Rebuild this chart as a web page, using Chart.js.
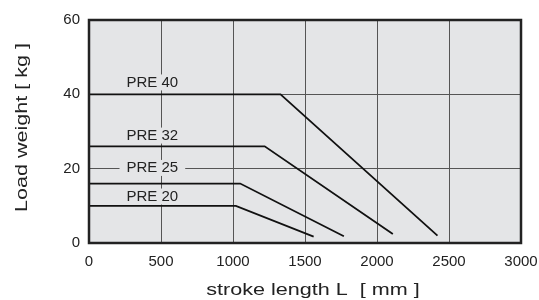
<!DOCTYPE html>
<html lang="en">
<head>
    <meta charset="UTF-8">
    <title>Load weight vs stroke length</title>
    <script src="https://cdn.jsdelivr.net/npm/chart.js"></script>
    <style>
        body {
            margin: 0;
            background: #ffffff;
        }
        .chart-container {
            width: 539px;
            height: 300px;
        }
    </style>
</head>
<body>
    <div class="chart-container">
        <canvas id="loadChart"></canvas>
    </div>

    <script>
        // series names
        var seriesNames = ['PRE 40', 'PRE 32', 'PRE 25', 'PRE 20'];
        // stroke length points (mm) for each series
        var strokeX = [
            [0, 1330, 2420],
            [0, 1220, 2110],
            [0, 1050, 1770],
            [0, 1020, 1560]
        ];
        // load weight points (kg) for each series
        var loadY = [
            [40, 40, 2.0],
            [26, 26, 2.4],
            [16, 16, 1.8],
            [10, 10, 1.7]
        ];
        // where the series names sit (data coords)
        var labelX = [440, 440, 440, 440];
        var labelY = [43.2, 28.9, 20.2, 12.5];

        var xTicks = [0, 500, 1000, 1500, 2000, 2500, 3000];
        var yTicks = [0, 20, 40, 60];

        var xTitle = 'stroke length L  [ mm ]';
        var yTitle = 'Load weight [ kg ]';

        var plotBg = '#e4e5e7';
        var fontFamily = '"Liberation Sans", Arial, sans-serif';

        var datasets = seriesNames.map(function (name, i) {
            return {
                label: name,
                data: strokeX[i].map(function (x, j) { return { x: x, y: loadY[i][j] }; }),
                showLine: true,
                borderColor: '#111111',
                borderWidth: 1.8,
                pointRadius: 0,
                fill: false
            };
        });

        // draws text stretched a bit wider, like the original artwork
        function wideText(ctx, text, x, y, angle) {
            ctx.save();
            ctx.translate(x, y);
            ctx.rotate(angle);
            ctx.scale(1.27, 1);
            ctx.fillText(text, 0, 0);
            ctx.restore();
        }

        // plot background, series labels, frame and axis titles
        var framePlugin = {
            id: 'frame',
            beforeDraw: function (chart) {
                var a = chart.chartArea, ctx = chart.ctx;
                ctx.save();
                ctx.fillStyle = plotBg;
                ctx.fillRect(a.left, a.top, a.right - a.left, a.bottom - a.top);
                ctx.restore();
            },
            beforeDatasetsDraw: function (chart) {
                var ctx = chart.ctx;
                var xs = chart.scales.x, ys = chart.scales.y;
                ctx.save();
                ctx.font = '15px ' + fontFamily;
                ctx.textAlign = 'center';
                ctx.textBaseline = 'middle';
                seriesNames.forEach(function (name, i) {
                    var px = xs.getPixelForValue(labelX[i]);
                    var py = ys.getPixelForValue(labelY[i]);
                    var w = ctx.measureText(name).width;
                    ctx.fillStyle = plotBg;
                    ctx.fillRect(px - w / 2 - 7, py - 8, w + 14, 16);
                    ctx.fillStyle = '#222222';
                    ctx.fillText(name, px, py);
                });
                ctx.restore();
            },
            afterDraw: function (chart) {
                var a = chart.chartArea, ctx = chart.ctx;
                ctx.save();
                ctx.strokeStyle = '#222222';
                ctx.lineWidth = 2.5;
                ctx.strokeRect(a.left, a.top, a.right - a.left, a.bottom - a.top);

                ctx.fillStyle = '#222222';
                ctx.font = '17px ' + fontFamily;
                ctx.textAlign = 'center';
                ctx.textBaseline = 'middle';
                wideText(ctx, xTitle, (a.left + a.right) / 2 + 8, 290, 0);
                wideText(ctx, yTitle, 22, (a.top + a.bottom) / 2 - 4, -Math.PI / 2);
                ctx.restore();
            }
        };

        var ctx = document.getElementById('loadChart').getContext('2d');
        var loadChart = new Chart(ctx, {
            type: 'scatter',
            data: { datasets: datasets },
            options: {
                responsive: true,
                maintainAspectRatio: false,
                animation: false,
                layout: {
                    padding: { top: 20, right: 18, left: 0, bottom: 0 }
                },
                plugins: {
                    legend: { display: false },
                    tooltip: { enabled: false }
                },
                scales: {
                    x: {
                        type: 'linear',
                        min: 0,
                        max: 3000,
                        afterBuildTicks: function (scale) {
                            scale.ticks = xTicks.map(function (v) { return { value: v }; });
                        },
                        afterFit: function (scale) {
                            scale.height = 57;
                            scale.paddingLeft = 0;
                            scale.paddingRight = 0;
                        },
                        grid: { color: '#555555', lineWidth: 1, drawTicks: false },
                        border: { display: false },
                        ticks: {
                            color: '#222222',
                            padding: 10,
                            maxRotation: 0,
                            font: { family: fontFamily, size: 15 },
                            callback: function (v) { return String(v); }
                        }
                    },
                    y: {
                        type: 'linear',
                        min: 0,
                        max: 60,
                        afterBuildTicks: function (scale) {
                            scale.ticks = yTicks.map(function (v) { return { value: v }; });
                        },
                        afterFit: function (scale) {
                            scale.width = 89;
                            scale.paddingTop = 0;
                            scale.paddingBottom = 0;
                        },
                        grid: { color: '#555555', lineWidth: 1, drawTicks: false },
                        border: { display: false },
                        ticks: {
                            color: '#222222',
                            padding: 9,
                            font: { family: fontFamily, size: 15 },
                            callback: function (v) { return String(v); }
                        }
                    }
                }
            },
            plugins: [framePlugin]
        });
    </script>
</body>
</html>
